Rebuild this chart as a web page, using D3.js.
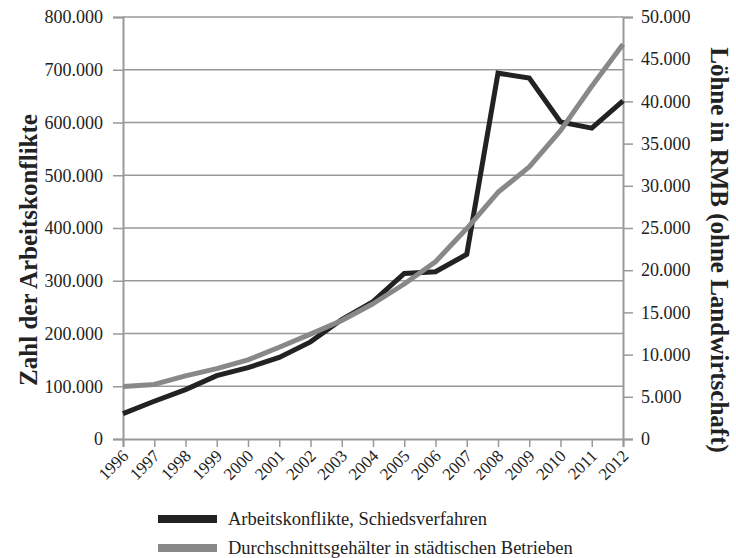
<!DOCTYPE html>
<html>
<head>
<meta charset="utf-8">
<script src="https://cdn.jsdelivr.net/npm/d3@7"></script>
<style>
  body { margin: 0; background: #fff; }
  text { font-family: 'Liberation Serif', 'DejaVu Serif', serif; fill: #222; }
</style>
</head>
<body>
<div id="chart"></div>
<script>
var years = [1996, 1997, 1998, 1999, 2000, 2001, 2002, 2003, 2004, 2005, 2006, 2007, 2008, 2009, 2010, 2011, 2012]
var konflikte = [48121, 71524, 93649, 120191, 135206, 154621, 184116, 226391, 260471, 313773, 317162, 350182, 693465, 684379, 600865, 589244, 641202]
var loehne = [6210, 6470, 7479, 8346, 9371, 10870, 12422, 14040, 16024, 18364, 21001, 24932, 29229, 32244, 36539, 41799, 46769]
var leftTicks = [0, 100000, 200000, 300000, 400000, 500000, 600000, 700000, 800000]
var rightTicks = [0, 5000, 10000, 15000, 20000, 25000, 30000, 35000, 40000, 45000, 50000]
var legendLabels = ['Arbeitskonflikte, Schiedsverfahren', 'Durchschnittsgehälter in städtischen Betrieben']

var width = 736
var height = 558
var margin = { top: 17, right: 113, bottom: 119, left: 123 }
var chartWidth = width - margin.left - margin.right
var chartHeight = height - margin.top - margin.bottom

var fmt = function (d) { return d === 0 ? '0' : d3.format(',')(d).replace(/,/g, '.') }

var x = d3.scalePoint().domain(years).range([0, chartWidth])
var yL = d3.scaleLinear().domain([0, 800000]).range([chartHeight, 0])
var yR = d3.scaleLinear().domain([0, 50000]).range([chartHeight, 0])

var svg = d3.select('#chart').append('svg')
  .attr('width', width)
  .attr('height', height)

var g = svg.append('g')
  .attr('transform', 'translate(' + margin.left + ',' + margin.top + ')')

// gridlines
g.append('g').selectAll('line')
  .data(leftTicks.slice(1))
  .enter().append('line')
  .attr('x1', 0).attr('x2', chartWidth)
  .attr('y1', function (d) { return yL(d) }).attr('y2', function (d) { return yL(d) })
  .attr('stroke', '#999').attr('stroke-width', 1.5)

// axes
var axisL = g.append('g')
  .call(d3.axisLeft(yL).tickValues(leftTicks).tickFormat(fmt).tickSize(10).tickPadding(10))
var axisR = g.append('g')
  .attr('transform', 'translate(' + chartWidth + ',0)')
  .call(d3.axisRight(yR).tickValues(rightTicks).tickFormat(fmt).tickSize(10).tickPadding(8))
var axisX = g.append('g')
  .attr('transform', 'translate(0,' + chartHeight + ')')
  .call(d3.axisBottom(x).tickSize(8).tickFormat(d3.format('d')))

;[axisL, axisR, axisX].forEach(function (a) {
  a.select('.domain').attr('stroke', '#999').attr('stroke-width', 2)
  a.selectAll('.tick line').attr('stroke', '#999').attr('stroke-width', 1.5)
  a.selectAll('text').style('font-family', "'Liberation Serif', serif").attr('fill', '#222')
})
axisL.selectAll('text').style('font-size', '18px')
axisR.selectAll('text').style('font-size', '18px')
axisX.selectAll('text')
  .style('font-size', '17px')
  .attr('text-anchor', 'end')
  .attr('dy', null)
  .attr('y', 0)
  .attr('transform', 'translate(6,18) rotate(-45)')

// lines
var lineL = d3.line().x(function (d, i) { return x(years[i]) }).y(function (d) { return yL(d) })
var lineR = d3.line().x(function (d, i) { return x(years[i]) }).y(function (d) { return yR(d) })

g.append('path').datum(konflikte)
  .attr('d', lineL).attr('fill', 'none')
  .attr('stroke', '#222').attr('stroke-width', 5).attr('stroke-linejoin', 'miter')
g.append('path').datum(loehne)
  .attr('d', lineR).attr('fill', 'none')
  .attr('stroke', '#888').attr('stroke-width', 5).attr('stroke-linejoin', 'round')

// axis titles
svg.append('text')
  .attr('transform', 'translate(37,250) rotate(-90)')
  .attr('text-anchor', 'middle')
  .style('font-size', '25px').style('font-weight', 'bold')
  .text('Zahl der Arbeitskonflikte')
svg.append('text')
  .attr('transform', 'translate(711,250) rotate(90)')
  .attr('text-anchor', 'middle')
  .style('font-size', '25px').style('font-weight', 'bold')
  .text('Löhne in RMB (ohne Landwirtschaft)')

// legend
var legend = svg.append('g').attr('transform', 'translate(158,519)')
var colors = ['#222', '#888']
legendLabels.forEach(function (label, i) {
  var row = legend.append('g').attr('transform', 'translate(0,' + (i * 29) + ')')
  row.append('rect').attr('x', 0).attr('y', -4).attr('width', 59).attr('height', 8).attr('fill', colors[i])
  row.append('text').attr('x', 70).attr('y', 6).style('font-size', '18.5px').text(label)
})
</script>
</body>
</html>
